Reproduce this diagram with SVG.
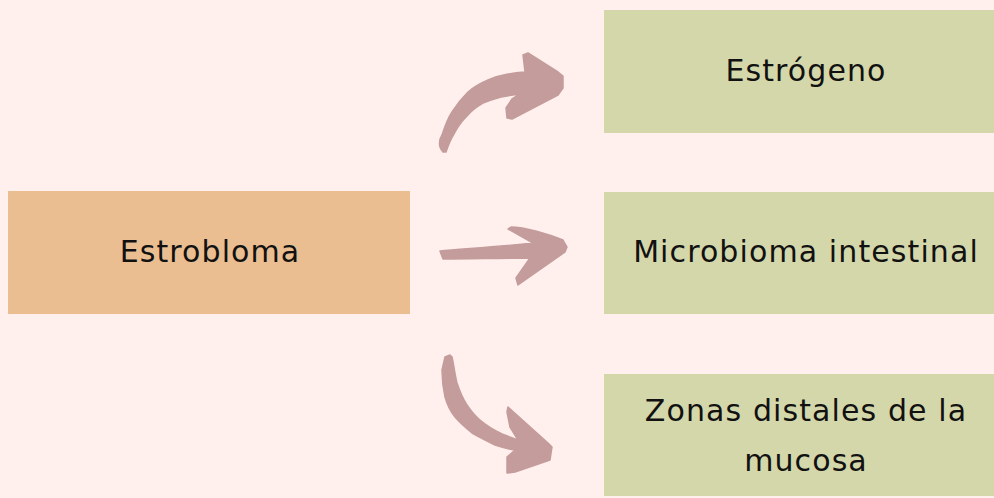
<svg xmlns="http://www.w3.org/2000/svg" width="994" height="498" viewBox="0 0 994 498">
  <style>
    .src { fill: #EABE90; }
    .dst { fill: #D4D7AA; }
    .arrow { fill: #C49C9C; stroke: #C49C9C; stroke-width: 1.5; stroke-linejoin: round; }
    text { font-family: "DejaVu Sans", "Noto Sans", sans-serif; font-size: 30px; letter-spacing: 1.1px; fill: #111; text-anchor: middle; }
  </style>
  <rect width="994" height="498" fill="#FFF0EE"/>

  <g id="estrobloma">
    <rect class="src" x="8" y="191" width="402" height="123"/>
    <text x="210" y="262">Estrobloma</text>
  </g>

  <g id="estrogeno">
    <rect class="dst" x="604" y="10" width="390" height="123"/>
    <text x="806" y="81">Estrógeno</text>
  </g>

  <g id="microbioma">
    <rect class="dst" x="604" y="192" width="390" height="122"/>
    <text x="806" y="262">Microbioma intestinal</text>
  </g>

  <g id="zonas">
    <rect class="dst" x="604" y="374" width="390" height="122"/>
    <text x="806" y="421">Zonas distales de la</text>
    <text x="806" y="471">mucosa</text>
  </g>

  <g id="connectors">
    <!-- curved arrow up to Estrógeno -->
    <path class="arrow" d="M443,152 C438,146 439,140 442,135 C445,126 448,118 452,112 C457,104 462,98 468,92 C475,86 481,83 488,80 C495,77 502,75 508,74 C514,73 519,72 525,72 L523,55 L528,53 L558,72 L563,76 L563,88 L558,95 L512,119 L507,118 L506,108 L512,99 L520,94 C513,95 507,96 501,97 C494,99 488,101 483,103 C476,107 471,111 467,116 C461,122 457,128 454,134 C450,140 448,146 446,152 Z"/>
    <!-- straight arrow to Microbioma intestinal -->
    <path class="arrow" d="M440,251 C460,249 495,247 533,243 L508,229 L511,227 C525,227 548,234 563,240 L567,247 L565,252 L518,285 L516,278 L530,258 C500,258 470,259 443,259 Z"/>
    <!-- curved arrow down to Zonas distales -->
    <path class="arrow" d="M445,357 L450,355 L452,357 C454,366 455,375 457,383 C460,392 463,399 467,405 C471,411 475,416 480,420 C487,426 494,430 502,434 C507,436 512,438 518,440 L510,427 L507,412 L508,407 L548,443 L552,447 L550,460 L515,472 L507,473 L507,457 L515,450 C508,449 501,447 495,445 C487,441 479,437 472,433 C466,428 460,423 455,417 C450,411 447,404 445,397 C443,388 442,379 442,370 Z"/>
  </g>
</svg>
